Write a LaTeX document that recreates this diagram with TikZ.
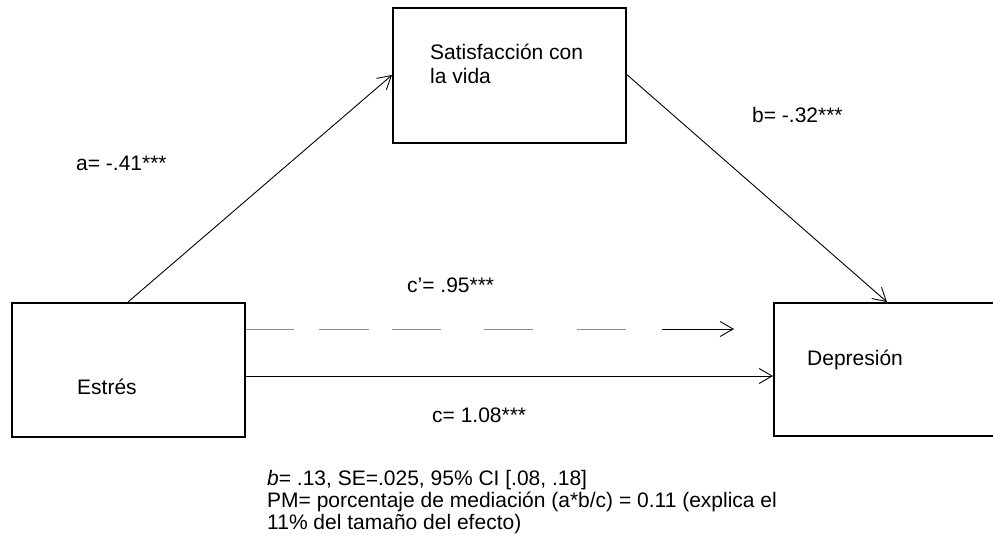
\documentclass[tikz,border=0pt]{standalone}
\usepackage{fontspec}
\setmainfont{Liberation Sans}
\usetikzlibrary{arrows.meta}
\begin{document}
\begin{tikzpicture}[x=1pt,y=-1pt,
  boxnode/.style={draw=black,line width=1.8pt,minimum width=#1,inner sep=0pt,anchor=north west},
  txt/.style={inner sep=0pt,anchor=base west,font=\fontsize{21}{24}\selectfont,align=left},
  arr/.style={line width=0.9pt,-{Straight Barb[length=13pt,width=15pt,line width=0.9pt]}},
  dashseg/.style={line width=0.9pt,draw=black!45}]
\useasboundingbox (0,0) rectangle (993,543);
% boxes
\node[boxnode=233pt,minimum height=134pt] (est) at (11,302) {};
\node[boxnode=233pt,minimum height=135pt] (sat) at (392,7) {};
\node[boxnode=240pt,minimum height=133pt] (dep) at (773,302) {};
% box texts
\node[txt] (testr) at (77,394) {Estrés};
\node[txt] (tsat) at (430,83) {Satisfacción con\\la vida};
\node[txt] (tdep) at (807,365) {Depresión};
% coordinates
\coordinate (aS) at (128,302);
\coordinate (aE) at (392,75);
\coordinate (bS) at (625,73);
\coordinate (bE) at (887,302);
\coordinate (d1) at (294,329);
\coordinate (d2a) at (319,329);
\coordinate (d2b) at (369,329);
\coordinate (d3a) at (392,329);
\coordinate (d3b) at (441,329);
\coordinate (d4a) at (484,329);
\coordinate (d4b) at (533,329);
\coordinate (d5a) at (577,329);
\coordinate (d5b) at (626,329);
\coordinate (d6a) at (662,329);
\coordinate (d6b) at (734,329);
\coordinate (cy) at (0,376);
% connectors
\draw[arr] (aS) -- (aE);
\draw[arr] (bS) -- (bE);
\draw[dashseg] (est.east |- d1) -- (d1);
\draw[dashseg] (d2a) -- (d2b);
\draw[dashseg] (d3a) -- (d3b);
\draw[dashseg] (d4a) -- (d4b);
\draw[dashseg] (d5a) -- (d5b);
\draw[arr] (d6a) -- (d6b);
\draw[arr] (est.east |- cy) -- (dep.west |- cy);
% labels
\node[txt] (la) at (76,170) {a= -.41***};
\node[txt] (lb) at (752,122) {b= -.32***};
\node[txt] (lcp) at (407,292) {c’= .95***};
\node[txt] (lc) at (432,422) {c= 1.08***};
\node[txt,font=\fontsize{21}{22}\selectfont] (note) at (267,529) {\textit{b}= .13, SE=.025, 95\% CI [.08, .18]\\PM= porcentaje de mediación (a*b/c) = 0.11 (explica el\\11\% del tamaño del efecto)};
\end{tikzpicture}
\end{document}
